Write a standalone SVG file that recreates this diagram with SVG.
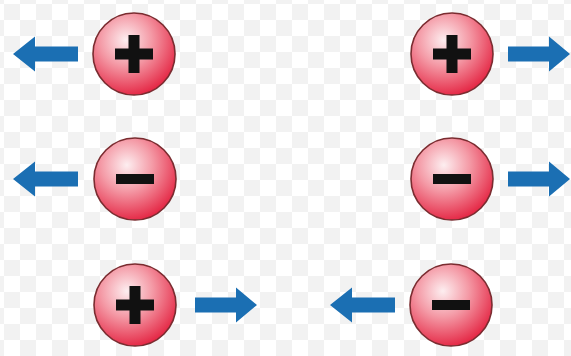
<svg xmlns="http://www.w3.org/2000/svg" width="571" height="356" viewBox="0 0 571 356">
<defs>
<pattern id="chk" width="32" height="32" patternUnits="userSpaceOnUse" x="4" y="4">
<rect width="32" height="32" fill="#ffffff"/>
<rect width="16" height="16" fill="#f2f2f2"/>
<rect x="16" y="16" width="16" height="16" fill="#f2f2f2"/>
</pattern>
<radialGradient id="ball" cx="0.4" cy="0.33" r="0.7">
<stop offset="0" stop-color="#fdeef0"/>
<stop offset="0.45" stop-color="#f49aa6"/>
<stop offset="1" stop-color="#e42442"/>
</radialGradient>
<path id="arrowL" d="M0,0 L22,-17.5 L22,-7.5 L65,-7.5 L65,7.5 L22,7.5 L22,17.5 Z" fill="#1b6fb3"/>
<path id="arrowR" d="M0,0 L-21,-17.5 L-21,-7.5 L-62,-7.5 L-62,7.5 L-21,7.5 L-21,17.5 Z" fill="#1b6fb3"/>
<circle id="b" r="41" fill="url(#ball)" stroke="#7a2c30" stroke-width="1.6"/>
<path id="plus" d="M-19,-5.5 H-5.5 V-19 H5.5 V-5.5 H19 V5.5 H5.5 V19 H-5.5 V5.5 H-19 Z" fill="#111"/>
<rect id="minus" x="-19" y="-5" width="38" height="10" fill="#111"/>
</defs>
<style>.bg{fill:url(#chk)}</style>
<rect class="bg" width="571" height="356"/>
<g id="p1" transform="translate(134,54)"><use href="#b"/><use href="#plus"/></g>
<g id="m1" transform="translate(135,179)"><use href="#b"/><use href="#minus"/></g>
<g id="p2" transform="translate(135,305)"><use href="#b"/><use href="#plus"/></g>
<g id="p3" transform="translate(452,54)"><use href="#b"/><use href="#plus"/></g>
<g id="m2" transform="translate(452,179)"><use href="#b"/><use href="#minus"/></g>
<g id="m3" transform="translate(451,305)"><use href="#b"/><use href="#minus"/></g>
<g id="connectors">
<use href="#arrowL" x="13" y="54"/>
<use href="#arrowL" x="13" y="179"/>
<use href="#arrowR" x="257" y="305"/>
<use href="#arrowL" x="330" y="305"/>
<use href="#arrowR" x="570" y="54"/>
<use href="#arrowR" x="570" y="179"/>
</g>
</svg>
